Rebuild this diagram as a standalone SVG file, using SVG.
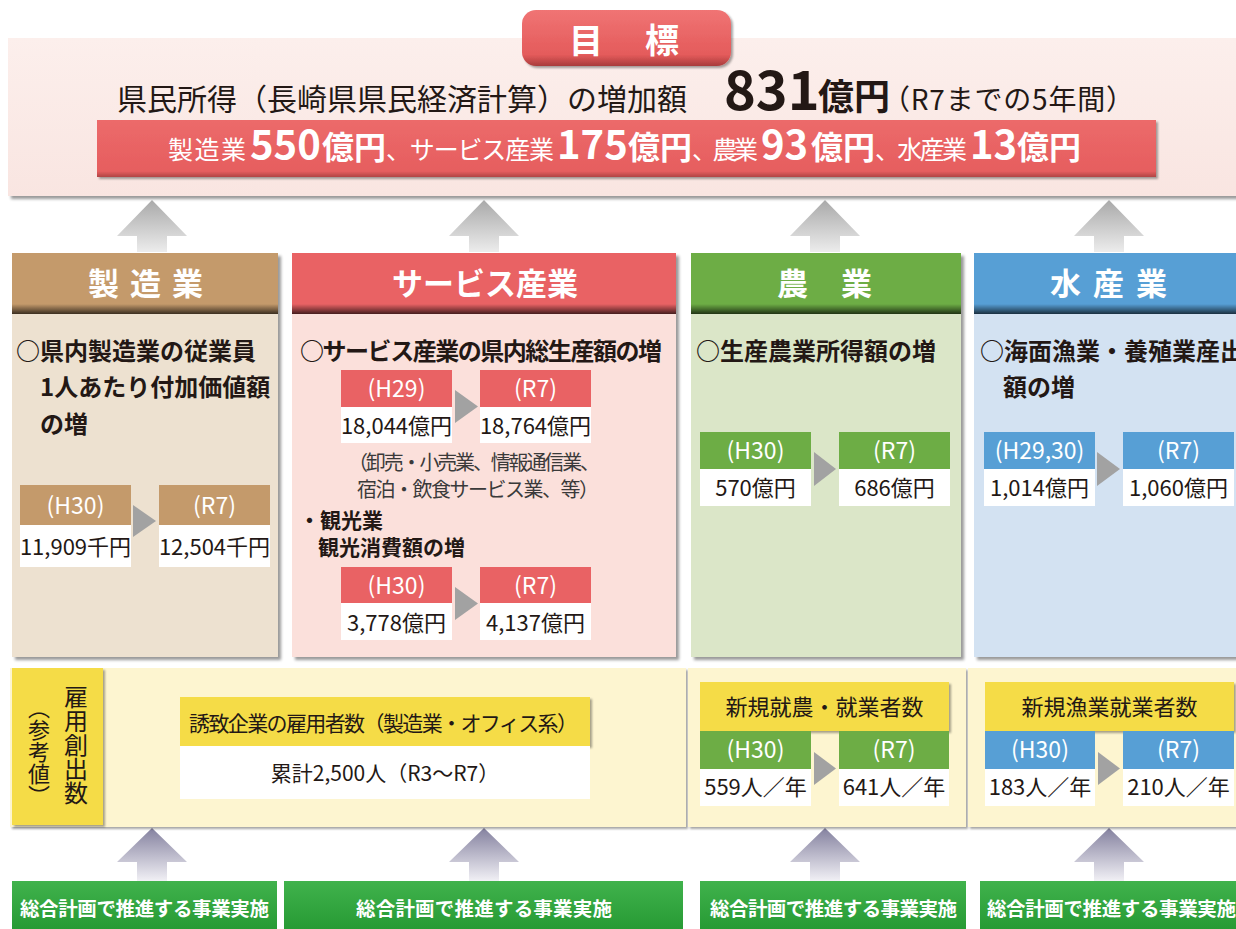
<svg xmlns="http://www.w3.org/2000/svg" width="1236" height="929" viewBox="0 0 1236 929">
<style>
text{font-family:"Noto Sans CJK JP","Noto Sans",sans-serif;}
.wh{fill:#fff}
.dk{fill:#231815}
.hd{font-size:31px;font-weight:700;fill:#fff}
.h2{font-size:24px;font-weight:700;fill:#231815}
.lb{font-size:23px;fill:#fff;text-anchor:middle}
.vl{font-size:22px;fill:#231815;text-anchor:middle}
.vb{fill:#fff}
.tri{fill:#a2a2a2}
.gt{font-size:19.5px;font-weight:700;fill:#fff}
.yl{fill:#f5dc46}
.cr{fill:#fdf5d0}
.brn{fill:#c49a6b}
.red{fill:#e96264}
.grn{fill:#6dad45}
.blu{fill:#579fd5}
.ex{font-size:20px;fill:#3a3a3a}
.yt{font-size:21px;fill:#231815}
.sm{font-size:25px;fill:#fff}
.bg{font-size:40px;font-weight:700;fill:#fff}
.yen{font-size:32px;font-weight:700;fill:#fff}
</style>
<defs>
<filter id="sh" x="-5%" y="-5%" width="115%" height="125%"><feDropShadow dx="3" dy="3" stdDeviation="1.8" flood-color="#000" flood-opacity="0.4"/></filter>
<filter id="sh2" x="-5%" y="-10%" width="115%" height="130%"><feDropShadow dx="2" dy="2" stdDeviation="1" flood-color="#000" flood-opacity="0.35"/></filter>
<linearGradient id="ga" x1="0" y1="0" x2="0" y2="1"><stop offset="0" stop-color="#a9a9a9"/><stop offset="1" stop-color="#ececec"/></linearGradient>
<linearGradient id="gp" x1="0" y1="0" x2="0" y2="1"><stop offset="0" stop-color="#84819f"/><stop offset="1" stop-color="#f1f0f5"/></linearGradient>
<linearGradient id="band" x1="0" y1="0" x2="0" y2="1"><stop offset="0" stop-color="#000" stop-opacity="0"/><stop offset="1" stop-color="#000" stop-opacity="0.7"/></linearGradient>
<linearGradient id="tabg" x1="0" y1="0" x2="0" y2="1"><stop offset="0" stop-color="#f07474"/><stop offset="0.8" stop-color="#e45b5b"/><stop offset="1" stop-color="#a83c3c"/></linearGradient>
<linearGradient id="topg" x1="0" y1="0" x2="0" y2="1"><stop offset="0" stop-color="#fcefec"/><stop offset="1" stop-color="#f9e5e1"/></linearGradient>
<linearGradient id="barg" x1="0" y1="0" x2="0" y2="1"><stop offset="0" stop-color="#ec6a6a"/><stop offset="0.9" stop-color="#e65e5f"/><stop offset="1" stop-color="#b04444"/></linearGradient>
<linearGradient id="grg" x1="0" y1="0" x2="0" y2="1"><stop offset="0" stop-color="#40b24c"/><stop offset="1" stop-color="#279a34"/></linearGradient>
<path id="au" d="M-35 36L0 0L35 36H15V52H-15V36Z"/>
<path id="ad" d="M-35 34L0 0L35 34H15V53H-15V34Z"/>
</defs>

<g id="goal">
<rect x="8" y="38" width="1240" height="158" fill="url(#topg)" filter="url(#sh)"/>
<rect x="522" y="10" width="209" height="56" rx="14" fill="url(#tabg)" filter="url(#sh2)"/>
<text x="586" y="53" font-size="34" font-weight="700" class="wh" text-anchor="middle">目</text>
<text x="662" y="53" font-size="34" font-weight="700" class="wh" text-anchor="middle">標</text>
<text x="117" y="110" font-size="30" class="dk" textLength="570">県民所得（長崎県県民経済計算）の増加額</text>
<text x="724" y="110" font-size="54" font-weight="700" class="dk">831</text>
<text x="818" y="110" font-size="36" font-weight="700" class="dk">億円</text>
<text x="882" y="110" font-size="28" class="dk" textLength="252">（R7までの5年間）</text>
<rect x="97" y="120" width="1059" height="57" fill="url(#barg)" filter="url(#sh2)"/>
<text class="sm" x="168" y="159" textLength="78">製造業</text>
<text class="bg" x="250" y="159">550</text>
<text class="yen" x="322" y="159">億円</text>
<text class="sm" x="386" y="159" textLength="168">、サービス産業</text>
<text class="bg" x="557" y="159">175</text>
<text class="yen" x="628" y="159">億円</text>
<text class="sm" x="692" y="159" textLength="66">、農業</text>
<text class="bg" x="761" y="159">93</text>
<text class="yen" x="811" y="159">億円</text>
<text class="sm" x="875" y="159" textLength="92">、水産業</text>
<text class="bg" x="970" y="159">13</text>
<text class="yen" x="1017" y="159">億円</text>
</g>

<g id="connectors">
<use href="#au" x="152" y="200" fill="url(#ga)"/>
<use href="#au" x="484" y="200" fill="url(#ga)"/>
<use href="#au" x="825" y="200" fill="url(#ga)"/>
<use href="#au" x="1109" y="200" fill="url(#ga)"/>
<use href="#ad" x="152" y="828" fill="url(#gp)"/>
<use href="#ad" x="484" y="828" fill="url(#gp)"/>
<use href="#ad" x="825" y="828" fill="url(#gp)"/>
<use href="#ad" x="1109" y="828" fill="url(#gp)"/>
</g>

<g id="manufacturing">
<rect x="12" y="253" width="266" height="404" fill="#ede1d0" filter="url(#sh)"/>
<rect x="12" y="253" width="266" height="61" class="brn"/>
<rect x="12" y="304" width="266" height="10" fill="url(#band)"/>
<text class="hd" x="88 130 172" y="295">製造業</text>
<text class="h2" x="16" y="360">○県内製造業の従業員</text>
<text class="h2" x="40" y="396">1人あたり付加価値額</text>
<text class="h2" x="40" y="433">の増</text>
<rect x="20" y="485" width="111" height="40" class="brn"/>
<rect x="20" y="525" width="111" height="42" class="vb"/>
<text class="lb" x="75.5" y="514">(H30)</text>
<text class="vl" x="75.5" y="555">11,909千円</text>
<polygon class="tri" points="133,505 156,521 133,537"/>
<rect x="159" y="485" width="111" height="40" class="brn"/>
<rect x="159" y="525" width="111" height="42" class="vb"/>
<text class="lb" x="214.5" y="514">(R7)</text>
<text class="vl" x="214.5" y="555">12,504千円</text>
</g>

<g id="service">
<rect x="292" y="253" width="384" height="404" fill="#fbe0db" filter="url(#sh)"/>
<rect x="292" y="253" width="384" height="61" class="red"/>
<rect x="292" y="304" width="384" height="10" fill="url(#band)"/>
<text class="hd" x="392" y="295" textLength="186">サービス産業</text>
<text class="h2" x="300" y="360" textLength="362">○サービス産業の県内総生産額の増</text>
<rect x="341" y="370" width="111" height="37" class="red"/>
<rect x="341" y="407" width="111" height="36" class="vb"/>
<text class="lb" x="396.5" y="397">(H29)</text>
<text class="vl" x="396.5" y="434">18,044億円</text>
<polygon class="tri" points="455,390 478,406.5 455,423"/>
<rect x="480" y="370" width="111" height="37" class="red"/>
<rect x="480" y="407" width="111" height="36" class="vb"/>
<text class="lb" x="535.5" y="397">(R7)</text>
<text class="vl" x="535.5" y="434">18,764億円</text>
<text class="ex" x="348" y="470" textLength="252">（卸売・小売業、情報通信業、</text>
<text class="ex" x="357" y="497" textLength="242">宿泊・飲食サービス業、等）</text>
<text x="299" y="528" font-size="21" font-weight="700" class="dk">・観光業</text>
<text x="318" y="555" font-size="21" font-weight="700" class="dk">観光消費額の増</text>
<rect x="341" y="567" width="111" height="36" class="red"/>
<rect x="341" y="603" width="111" height="37" class="vb"/>
<text class="lb" x="396.5" y="594">(H30)</text>
<text class="vl" x="396.5" y="631">3,778億円</text>
<polygon class="tri" points="455,587 478,603.5 455,620"/>
<rect x="480" y="567" width="111" height="36" class="red"/>
<rect x="480" y="603" width="111" height="37" class="vb"/>
<text class="lb" x="535.5" y="594">(R7)</text>
<text class="vl" x="535.5" y="631">4,137億円</text>
</g>

<g id="agriculture">
<rect x="691" y="253" width="270" height="404" fill="#dbe6c8" filter="url(#sh)"/>
<rect x="691" y="253" width="270" height="61" class="grn"/>
<rect x="691" y="304" width="270" height="10" fill="url(#band)"/>
<text class="hd" x="777 841" y="295">農業</text>
<text class="h2" x="696" y="360">○生産農業所得額の増</text>
<rect x="700" y="432" width="111" height="37" class="grn"/>
<rect x="700" y="469" width="111" height="37" class="vb"/>
<text class="lb" x="755.5" y="459">(H30)</text>
<text class="vl" x="755.5" y="496">570億円</text>
<polygon class="tri" points="814,452 836,469 814,486"/>
<rect x="839" y="432" width="111" height="37" class="grn"/>
<rect x="839" y="469" width="111" height="37" class="vb"/>
<text class="lb" x="894.5" y="459">(R7)</text>
<text class="vl" x="894.5" y="496">686億円</text>
</g>

<g id="fisheries">
<rect x="974" y="253" width="266" height="404" fill="#d3e2f2" filter="url(#sh)"/>
<rect x="974" y="253" width="266" height="61" class="blu"/>
<rect x="974" y="304" width="266" height="10" fill="url(#band)"/>
<text class="hd" x="1050 1093 1136" y="295">水産業</text>
<text class="h2" x="980" y="360">○海面漁業・養殖業産出</text>
<text class="h2" x="1003" y="396">額の増</text>
<rect x="984" y="432" width="111" height="37" class="blu"/>
<rect x="984" y="469" width="111" height="37" class="vb"/>
<text class="lb" x="1039.5" y="459">(H29,30)</text>
<text class="vl" x="1039.5" y="496">1,014億円</text>
<polygon class="tri" points="1097,452 1120,469 1097,486"/>
<rect x="1123" y="432" width="111" height="37" class="blu"/>
<rect x="1123" y="469" width="111" height="37" class="vb"/>
<text class="lb" x="1178.5" y="459">(R7)</text>
<text class="vl" x="1178.5" y="496">1,060億円</text>
</g>

<g id="employment">
<rect x="10" y="668" width="676" height="159" class="cr" filter="url(#sh2)"/>
<rect x="688" y="668" width="278" height="159" class="cr" filter="url(#sh2)"/>
<rect x="968" y="668" width="272" height="159" class="cr" filter="url(#sh2)"/>
<rect x="12" y="668" width="91" height="157" class="yl" filter="url(#sh2)"/>
<text x="76" y="685" font-size="24" class="dk" style="writing-mode:vertical-rl">雇用創出数</text>
<text x="39" y="697" font-size="22" class="dk" style="writing-mode:vertical-rl">（参考値）</text>
<rect x="180" y="697" width="410" height="49" class="yl" filter="url(#sh2)"/>
<rect x="180" y="746" width="410" height="53" class="vb"/>
<text class="yt" x="189" y="731" textLength="389">誘致企業の雇用者数（製造業・オフィス系）</text>
<text class="yt" x="385" y="781" text-anchor="middle">累計2,500人（R3〜R7）</text>
</g>

<g id="new-farmers">
<rect x="700" y="682" width="249" height="49" class="yl" filter="url(#sh2)"/>
<text x="824.5" y="715" font-size="22" class="dk" text-anchor="middle">新規就農・就業者数</text>
<rect x="700" y="731" width="111" height="38" class="grn"/>
<rect x="700" y="769" width="111" height="37" class="vb"/>
<text class="lb" x="755.5" y="758">(H30)</text>
<text class="vl" x="755.5" y="795">559人／年</text>
<polygon class="tri" points="814,752 836,768.5 814,785"/>
<rect x="839" y="731" width="110" height="38" class="grn"/>
<rect x="839" y="769" width="110" height="37" class="vb"/>
<text class="lb" x="894" y="758">(R7)</text>
<text class="vl" x="894" y="795">641人／年</text>
</g>

<g id="new-fishers">
<rect x="985" y="682" width="249" height="49" class="yl" filter="url(#sh2)"/>
<text x="1109.5" y="715" font-size="22" class="dk" text-anchor="middle">新規漁業就業者数</text>
<rect x="985" y="731" width="110" height="38" class="blu"/>
<rect x="985" y="769" width="110" height="37" class="vb"/>
<text class="lb" x="1040" y="758">(H30)</text>
<text class="vl" x="1040" y="795">183人／年</text>
<polygon class="tri" points="1098,752 1120,768.5 1098,785"/>
<rect x="1123" y="731" width="111" height="38" class="blu"/>
<rect x="1123" y="769" width="111" height="37" class="vb"/>
<text class="lb" x="1178.5" y="758">(R7)</text>
<text class="vl" x="1178.5" y="795">210人／年</text>
</g>

<g id="actions">
<rect x="12" y="881" width="265" height="48" fill="url(#grg)"/>
<text class="gt" x="20" y="916" textLength="249">総合計画で推進する事業実施</text>
<rect x="284" y="881" width="399" height="48" fill="url(#grg)"/>
<text class="gt" x="356" y="916" textLength="256">総合計画で推進する事業実施</text>
<rect x="700" y="881" width="266" height="48" fill="url(#grg)"/>
<text class="gt" x="710" y="916" textLength="247">総合計画で推進する事業実施</text>
<rect x="980" y="881" width="260" height="48" fill="url(#grg)"/>
<text class="gt" x="987" y="916" textLength="249">総合計画で推進する事業実施</text>
</g>
</svg>
